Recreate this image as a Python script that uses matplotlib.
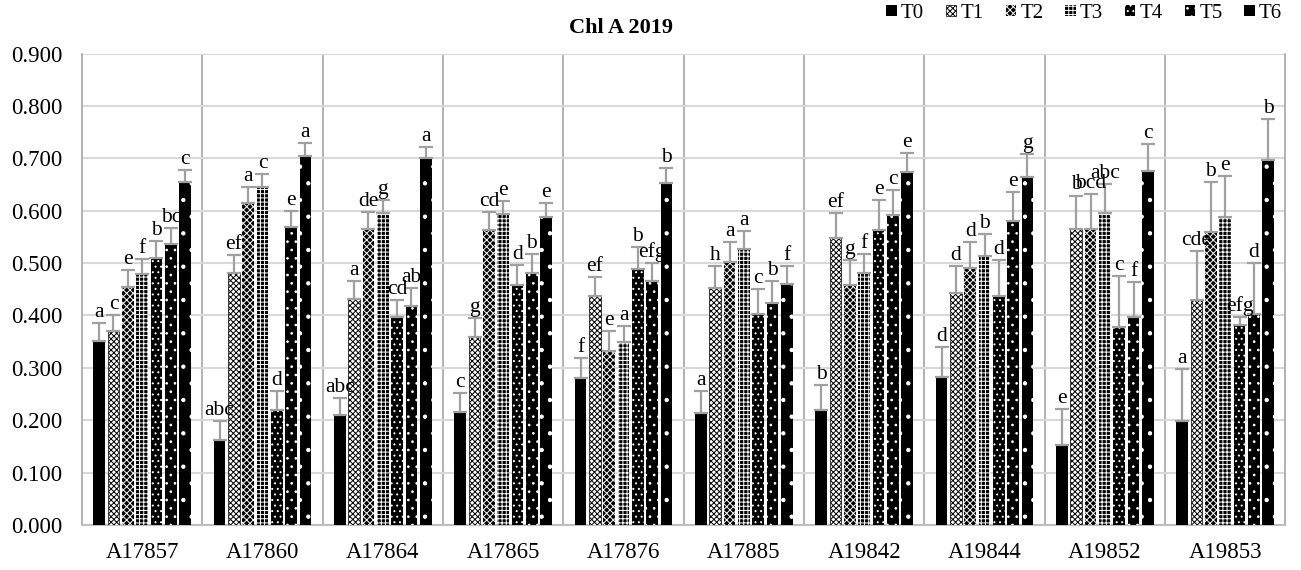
import matplotlib
matplotlib.use("Agg")
import matplotlib.pyplot as plt
from matplotlib.patches import Patch
import numpy as np

plt.rcParams['font.family'] = ['Liberation Serif', 'DejaVu Serif']
plt.rcParams['hatch.linewidth'] = 0.7

cultivars = ['A17857', 'A17860', 'A17864', 'A17865', 'A17876',
             'A17885', 'A19842', 'A19844', 'A19852', 'A19853']
treatments = ['T0', 'T1', 'T2', 'T3', 'T4', 'T5', 'T6']

# mean values, one list per treatment (in cultivar order)
T0 = [0.352, 0.163, 0.210, 0.215, 0.280, 0.213, 0.220, 0.283, 0.153, 0.198]
T1 = [0.370, 0.482, 0.432, 0.358, 0.437, 0.452, 0.547, 0.443, 0.566, 0.430]
T2 = [0.455, 0.615, 0.566, 0.563, 0.333, 0.503, 0.458, 0.490, 0.566, 0.560]
T3 = [0.480, 0.645, 0.595, 0.593, 0.350, 0.527, 0.482, 0.513, 0.596, 0.588]
T4 = [0.510, 0.220, 0.398, 0.458, 0.488, 0.403, 0.563, 0.437, 0.378, 0.382]
T5 = [0.537, 0.568, 0.418, 0.482, 0.465, 0.423, 0.592, 0.580, 0.398, 0.402]
T6 = [0.655, 0.705, 0.700, 0.588, 0.652, 0.460, 0.673, 0.665, 0.675, 0.697]

# upper error (standard deviation)
E0 = [0.033, 0.035, 0.033, 0.037, 0.038, 0.042, 0.048, 0.057, 0.069, 0.099]
E1 = [0.030, 0.033, 0.033, 0.037, 0.036, 0.043, 0.048, 0.052, 0.063, 0.093]
E2 = [0.032, 0.030, 0.031, 0.035, 0.037, 0.037, 0.047, 0.050, 0.066, 0.095]
E3 = [0.028, 0.025, 0.025, 0.025, 0.030, 0.035, 0.036, 0.042, 0.055, 0.078]
E4 = [0.033, 0.035, 0.032, 0.039, 0.042, 0.047, 0.057, 0.068, 0.098, 0.015]
E5 = [0.030, 0.032, 0.034, 0.036, 0.035, 0.042, 0.048, 0.055, 0.066, 0.098]
E6 = [0.023, 0.025, 0.022, 0.027, 0.030, 0.035, 0.037, 0.043, 0.052, 0.078]

# significance letters
L0 = ['a', 'abc', 'abc', 'c', 'f', 'a', 'b', 'd', 'e', 'a']
L1 = ['c', 'ef', 'a', 'g', 'ef', 'h', 'ef', 'd', 'b', 'cde']
L2 = ['e', 'a', 'de', 'cd', 'e', 'a', 'g', 'd', 'bcd', 'b']
L3 = ['f', 'c', 'g', 'e', 'a', 'a', 'f', 'b', 'abc', 'e']
L4 = ['b', 'd', 'cd', 'd', 'b', 'c', 'e', 'd', 'c', 'efg']
L5 = ['bc', 'e', 'ab', 'b', 'efg', 'b', 'c', 'e', 'f', 'd']
L6 = ['c', 'a', 'a', 'e', 'b', 'f', 'e', 'g', 'c', 'b']

means = [T0, T1, T2, T3, T4, T5, T6]
errs = [E0, E1, E2, E3, E4, E5, E6]
letters = [L0, L1, L2, L3, L4, L5, L6]

# (face, hatch colour, hatch, outline width)
styles = [
    ('black', 'black', '', 0),
    ('white', 'black', 'xxxxxx', 0.5),
    ('black', 'white', 'xxxxx', 0),
    ('black', 'white', '++++', 0),
    ('black', 'white', '...', 0),
    ('black', 'white', '..', 0),
    ('black', 'white', '.', 0),
]

fig = plt.figure(figsize=(13.01, 5.70), dpi=100)
ax = fig.add_axes([0.063, 0.079, 0.925, 0.827])

x = np.arange(len(cultivars))
pitch = 0.119
width = 0.097
for i, (vals, err, labs) in enumerate(zip(means, errs, letters)):
    face, hcol, hatch, lw = styles[i]
    pos = x + (i - 3) * pitch
    ax.bar(pos, vals, width, color=face, edgecolor=hcol, linewidth=lw,
           hatch=hatch, zorder=3)
    ax.errorbar(pos, vals, yerr=[np.zeros(len(vals)), err], fmt='none',
                ecolor='#A0A0A0', elinewidth=1.6, capsize=5, capthick=1.6,
                zorder=4)
    for p, v, e, t in zip(pos, vals, err, labs):
        ax.text(p, v + e + 0.002, t, ha='center', va='bottom',
                fontsize=15.5, zorder=5)

ax.set_xlim(-0.5, len(cultivars) - 0.5)
ax.set_ylim(0, 0.9)
ax.set_yticks(np.arange(0, 0.901, 0.1))
ax.set_yticklabels([f'{v:.3f}' for v in np.arange(0, 0.901, 0.1)])
ax.set_xticks(x)
ax.set_xticklabels(cultivars)
ax.tick_params(axis='both', length=0, labelsize=16.5)
ax.tick_params(axis='x', pad=12)
ax.tick_params(axis='y', pad=14)

ax.yaxis.grid(True, color='#D9D9D9', linewidth=1.5, zorder=0)
for b in np.arange(0.5, len(cultivars) - 0.5, 1):
    ax.axvline(b, color='#A6A6A6', linewidth=1.2, zorder=1)
for side in ['left', 'right']:
    ax.spines[side].set_color('#A6A6A6')
    ax.spines[side].set_linewidth(1.2)
ax.spines['top'].set_visible(False)
ax.spines['bottom'].set_color('#BFBFBF')
ax.spines['bottom'].set_linewidth(1.5)

fig.text(0.477, 0.951, 'Chl A 2019', ha='center', va='center',
         fontsize=16, fontweight='bold')

handles = [Patch(facecolor=s[0], edgecolor=s[1], hatch=s[2], linewidth=s[3])
           for s in styles]
fig.legend(handles, treatments, loc='upper right', ncol=7,
           bbox_to_anchor=(0.995, 1.015), frameon=False, fontsize=15,
           handlelength=0.5, handleheight=0.5, handletextpad=0.2,
           columnspacing=1.05, borderaxespad=0.2)

fig.savefig('out.png', dpi=100)
